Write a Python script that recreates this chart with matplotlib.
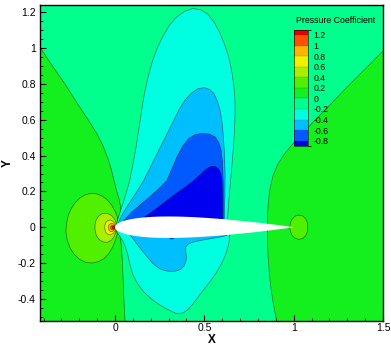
import numpy as np
import matplotlib.pyplot as plt
from matplotlib.colors import ListedColormap, BoundaryNorm
from matplotlib.cm import ScalarMappable
from matplotlib.ticker import MultipleLocator, FuncFormatter

plt.rcParams['font.family'] = ['Liberation Sans', 'DejaVu Sans']
plt.rcParams['axes.unicode_minus'] = False

# contour levels of the legend and band colours (low -> high)
levels = [-0.8, -0.6, -0.4, -0.2, 0.0, 0.2, 0.4, 0.6, 0.8, 1.0, 1.2]
band_edges = [-0.9] + levels + [1.3]
band_colors = ['#0000f0', '#005aff', '#00bfff', '#00ffe0', '#00ff8c', '#14f01e',
               '#50f000', '#a8f000', '#f0f000', '#ffb400', '#ff5000', '#e60000']

# iso-Cp lines (x, y), each closed as a region
cp_gt0_left = np.array([
    (-0.5, 1.122), (-0.42, 1.005), (-0.35, 0.9), (-0.28, 0.8), (-0.21, 0.69),
    (-0.15, 0.6), (-0.1, 0.52), (-0.065, 0.45), (-0.04, 0.385), (-0.02, 0.32),
    (-0.004, 0.255), (0.01, 0.2), (0.022, 0.16), (0.03, 0.12), (0.033, 0.085),
    (0.028, 0.05), (0.016, 0.025), (0.003, 0.0), (0.016, -0.025), (0.028, -0.055),
    (0.035, -0.1), (0.04, -0.17), (0.044, -0.26), (0.048, -0.36), (0.052, -0.45),
    (0.056, -0.524), (0.06, -0.6), (-0.5, -0.6)])
cp_gt0_right = np.array([
    (1.6, 1.08), (1.5, 0.985), (1.4, 0.885), (1.3, 0.785), (1.2, 0.68),
    (1.12, 0.6), (1.05, 0.525), (0.99, 0.46), (0.945, 0.405), (0.91, 0.35),
    (0.885, 0.29), (0.868, 0.22), (0.858, 0.14), (0.853, 0.06), (0.852, 0.0),
    (0.853, -0.08), (0.857, -0.17), (0.864, -0.26), (0.874, -0.35), (0.888, -0.44),
    (0.905, -0.524), (0.91, -0.6), (1.6, -0.6)])
cp_gt02_le = np.array([
    (0.008, 0.012), (0.015, 0.035), (0.012, 0.06), (0.0, 0.09), (-0.02, 0.125),
    (-0.045, 0.155), (-0.075, 0.176), (-0.105, 0.187), (-0.135, 0.189), (-0.165, 0.182),
    (-0.195, 0.165), (-0.222, 0.138), (-0.245, 0.105), (-0.262, 0.065), (-0.272, 0.02),
    (-0.275, -0.025), (-0.268, -0.07), (-0.252, -0.115), (-0.228, -0.152), (-0.198, -0.18),
    (-0.165, -0.196), (-0.13, -0.2), (-0.095, -0.193), (-0.062, -0.176), (-0.035, -0.148),
    (-0.013, -0.11), (0.003, -0.07), (0.012, -0.04), (0.008, -0.012)])
cp_gt02_te = np.array([
    (0.978, 0.0), (0.982, 0.025), (0.992, 0.046), (1.008, 0.062), (1.03, 0.068),
    (1.052, 0.062), (1.068, 0.046), (1.077, 0.024), (1.079, 0.0), (1.077, -0.024),
    (1.068, -0.046), (1.052, -0.062), (1.03, -0.068), (1.008, -0.062), (0.992, -0.046),
    (0.982, -0.025)])
cp_gt04 = np.array([
    (0.004, 0.006), (0.006, 0.025), (-0.004, 0.048), (-0.022, 0.067), (-0.045, 0.078),
    (-0.07, 0.077), (-0.09, 0.064), (-0.105, 0.042), (-0.112, 0.015), (-0.112, -0.015),
    (-0.105, -0.045), (-0.09, -0.068), (-0.068, -0.082), (-0.043, -0.084), (-0.02, -0.072),
    (-0.004, -0.05), (0.004, -0.025), (0.004, -0.006)])
cp_gt06 = np.array([
    (0.002, 0.004), (0.0, 0.018), (-0.01, 0.032), (-0.025, 0.04), (-0.04, 0.038),
    (-0.051, 0.027), (-0.057, 0.01), (-0.057, -0.01), (-0.052, -0.028), (-0.04, -0.04),
    (-0.025, -0.043), (-0.01, -0.035), (0.0, -0.02), (0.002, -0.004)])
cp_gt08 = np.array([
    (0.001, 0.003), (-0.004, 0.014), (-0.013, 0.021), (-0.024, 0.021), (-0.034, 0.013),
    (-0.038, 0.0), (-0.035, -0.014), (-0.026, -0.024), (-0.014, -0.025), (-0.004, -0.015),
    (0.001, -0.003)])
cp_gt10 = np.array([
    (0.0, 0.002), (-0.006, 0.009), (-0.015, 0.011), (-0.023, 0.006), (-0.026, -0.003),
    (-0.021, -0.012), (-0.011, -0.014), (-0.003, -0.008), (0.0, -0.002)])
cp_gt12 = np.array([
    (0.0, 0.001), (-0.006, 0.006), (-0.013, 0.004), (-0.016, -0.002), (-0.012, -0.007),
    (-0.004, -0.006)])

cp_lt_02 = np.array([
    (0.006, 0.006), (0.012, 0.035), (0.03, 0.09), (0.05, 0.15), (0.068, 0.21),
    (0.082, 0.26), (0.1, 0.35), (0.118, 0.45), (0.135, 0.56), (0.15, 0.66),
    (0.165, 0.75), (0.185, 0.84), (0.21, 0.93), (0.24, 1.01), (0.27, 1.07),
    (0.305, 1.13), (0.345, 1.175), (0.39, 1.207), (0.436, 1.222), (0.48, 1.215),
    (0.52, 1.19), (0.555, 1.145), (0.585, 1.09), (0.61, 1.03), (0.635, 0.955),
    (0.652, 0.88), (0.664, 0.8), (0.671, 0.72), (0.672, 0.64), (0.669, 0.54),
    (0.662, 0.44), (0.654, 0.34), (0.646, 0.25), (0.638, 0.16), (0.632, 0.08),
    (0.628, 0.02), (0.64, -0.02), (0.642, -0.06), (0.635, -0.1), (0.62, -0.15),
    (0.598, -0.2), (0.57, -0.25), (0.535, -0.3), (0.5, -0.345), (0.465, -0.39),
    (0.435, -0.43), (0.41, -0.458), (0.385, -0.476), (0.36, -0.484), (0.335, -0.479),
    (0.31, -0.467), (0.28, -0.452), (0.24, -0.428), (0.2, -0.398), (0.16, -0.36),
    (0.125, -0.315), (0.1, -0.265), (0.083, -0.205), (0.068, -0.14), (0.05, -0.09),
    (0.03, -0.055), (0.012, -0.03), (0.006, -0.006)])
cp_lt_04_upper = np.array([
    (0.012, 0.005), (0.02, 0.03), (0.04, 0.07), (0.07, 0.12), (0.11, 0.18),
    (0.16, 0.26), (0.2, 0.34), (0.25, 0.44), (0.29, 0.52), (0.33, 0.6),
    (0.36, 0.66), (0.395, 0.715), (0.43, 0.752), (0.465, 0.775), (0.5, 0.78),
    (0.53, 0.77), (0.555, 0.745), (0.575, 0.7), (0.59, 0.645), (0.6, 0.58),
    (0.607, 0.5), (0.612, 0.42), (0.616, 0.3), (0.615, 0.18), (0.613, 0.08),
    (0.612, 0.02)])
cp_lt_04_lower = np.array([
    (0.07, -0.02), (0.09, -0.05), (0.12, -0.09), (0.155, -0.135), (0.19, -0.178),
    (0.22, -0.21), (0.25, -0.232), (0.28, -0.243), (0.31, -0.247), (0.34, -0.245),
    (0.365, -0.237), (0.384, -0.22), (0.396, -0.195), (0.4, -0.165), (0.396, -0.135),
    (0.396, -0.11), (0.41, -0.094), (0.44, -0.082), (0.5, -0.07), (0.56, -0.06),
    (0.6, -0.052), (0.625, -0.046), (0.625, -0.02)])
cp_lt_06_upper = np.array([
    (0.035, 0.01), (0.05, 0.04), (0.1, 0.09), (0.17, 0.15), (0.24, 0.21),
    (0.29, 0.26), (0.32, 0.33), (0.35, 0.4), (0.38, 0.455), (0.415, 0.498),
    (0.45, 0.518), (0.49, 0.525), (0.53, 0.52), (0.56, 0.505), (0.58, 0.475),
    (0.594, 0.43), (0.602, 0.36), (0.606, 0.25), (0.607, 0.12), (0.607, 0.02)])
cp_lt_06_lower = np.array([
    (0.3, -0.04), (0.304, -0.06), (0.317, -0.067), (0.33, -0.061), (0.335, -0.04)])
cp_lt_08 = np.array([
    (0.128, 0.028), (0.17, 0.06), (0.24, 0.11), (0.31, 0.165), (0.38, 0.215),
    (0.44, 0.26), (0.49, 0.305), (0.515, 0.328), (0.54, 0.341), (0.563, 0.339),
    (0.58, 0.325), (0.592, 0.3), (0.599, 0.26), (0.601, 0.18), (0.602, 0.08),
    (0.602, 0.02)])

# (band index in band_colors, region) painted in this order
regions = [
    (5, cp_gt0_left), (5, cp_gt0_right),
    (6, cp_gt02_le), (6, cp_gt02_te),
    (7, cp_gt04), (8, cp_gt06), (9, cp_gt08), (10, cp_gt10), (11, cp_gt12),
    (3, cp_lt_02), (2, cp_lt_04_upper), (2, cp_lt_04_lower),
    (1, cp_lt_06_upper), (1, cp_lt_06_lower), (0, cp_lt_08),
]


def naca0012():
    # symmetric NACA 4-digit section, chord 1, leading edge at the origin
    beta = np.linspace(0, np.pi, 120)
    x = 0.5 * (1 - np.cos(beta))
    yt = 0.6 * (0.2969 * np.sqrt(x) - 0.126 * x - 0.3516 * x**2
                + 0.2843 * x**3 - 0.1036 * x**4)
    return np.concatenate([x, x[::-1]]), np.concatenate([yt, -yt[::-1]])


def plot_cp_map():
    fig = plt.figure(figsize=(3.91, 3.53), dpi=100)
    ax = fig.add_axes([0.1023, 0.0907, 0.8772, 0.8952])
    ax.set_facecolor(band_colors[4])

    for band, pts in regions:
        ax.fill(pts[:, 0], pts[:, 1], facecolor=band_colors[band],
                edgecolor=(0, 0, 0, 0.55), linewidth=0.45)

    xa, ya = naca0012()
    ax.fill(xa, ya, facecolor='white', edgecolor='none', zorder=5)

    ax.set_xlim(-0.42, 1.5)
    ax.set_ylim(-0.524, 1.242)

    ax.xaxis.set_major_locator(MultipleLocator(0.5))
    ax.xaxis.set_minor_locator(MultipleLocator(0.1))
    ax.yaxis.set_major_locator(MultipleLocator(0.2))
    ax.yaxis.set_minor_locator(MultipleLocator(0.05))
    fmt = FuncFormatter(lambda v, p: '%g' % round(v, 3))
    ax.xaxis.set_major_formatter(fmt)
    ax.yaxis.set_major_formatter(fmt)
    ax.tick_params(which='major', direction='in', length=4.5, width=0.8, labelsize=7.5)
    ax.tick_params(which='minor', direction='in', length=2.3, width=0.6)
    ax.tick_params(axis='x', pad=1.5)
    ax.tick_params(axis='y', pad=3)
    for s in ax.spines.values():
        s.set_linewidth(1.0)
        s.set_zorder(10)

    ax.set_xlabel('X', fontsize=8.5, fontweight='bold', labelpad=0.5)
    ax.set_ylabel('Y', fontsize=8.5, fontweight='bold', labelpad=3)

    # legend in the Tecplot style
    cmap = ListedColormap(band_colors)
    norm = BoundaryNorm(band_edges, cmap.N)
    cax = fig.add_axes([0.752, 0.5864, 0.0358, 0.3295])
    cb = fig.colorbar(ScalarMappable(norm=norm, cmap=cmap), cax=cax,
                      spacing='proportional', ticks=levels, drawedges=True)
    cb.ax.set_yticklabels(['%g' % v for v in levels])
    cb.ax.tick_params(length=0, pad=4, labelsize=6.3)
    cb.outline.set_linewidth(0.4)
    cb.dividers.set_linewidth(0.3)
    cb.dividers.set_color((0, 0, 0, 0.35))
    fig.text(296 / 391, 1 - 20.5 / 353, 'Pressure Coefficient', fontsize=6.3,
             ha='left', va='center')

    fig.savefig('out.png', dpi=100)


if __name__ == "__main__":
    plot_cp_map()
